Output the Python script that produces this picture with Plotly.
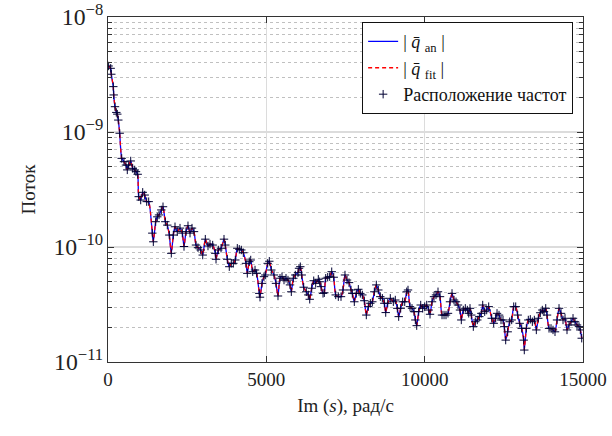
import plotly.graph_objects as go

# Frequencies, rad/s
freq = [20, 85, 104, 167, 180, 221, 262, 294, 325, 369, 433, 505, 568, 609, 654, 717, 780, 843, 884, 938,
        970, 1033, 1096, 1159, 1222, 1285, 1399, 1431, 1506, 1557, 1611, 1683, 1737, 1810, 1873, 1936, 1999, 2062,
        2116, 2188, 2274, 2346, 2400, 2463, 2526, 2590, 2653, 2716, 2779, 2842, 2927, 2991,
        3073, 3158, 3221, 3306, 3389, 3411, 3483, 3569, 3663, 3704, 3767, 3830, 3893, 3957, 4020, 4083, 4146,
        4210, 4273, 4358, 4399, 4462, 4507, 4570, 4643, 4696, 4778, 4800, 4863, 4926, 4967, 5043, 5094, 5157,
        5242, 5305, 5368, 5432, 5495, 5558, 5621, 5684, 5748, 5789, 5852, 5915, 6000,
        6032, 6073, 6117, 6180, 6262, 6325, 6370, 6433, 6496, 6559, 6641, 6686, 6727, 6790, 6831, 6875, 6938,
        7001, 7065, 7128, 7191, 7273, 7358, 7421, 7484, 7548, 7611, 7674, 7715, 7778, 7841, 7905, 7968, 8031,
        8094, 8157, 8220, 8284, 8347, 8410, 8473, 8536, 8599, 8663, 8726, 8770, 8833, 8915,
        9010, 9073, 9136, 9180, 9243, 9306, 9370, 9433, 9474, 9537, 9600, 9664, 9705, 9749, 9812, 9875, 9938,
        10001, 10065, 10128, 10169, 10232, 10295, 10358, 10421, 10485, 10548, 10611, 10674, 10737, 10800, 10864,
        10927, 10990, 11053, 11116, 11157, 11220, 11283, 11347, 11391, 11432, 11473, 11536, 11599, 11662, 11726,
        11789, 11833, 11896, 11959,
        12022, 12117, 12180, 12243, 12285, 12348, 12411, 12474, 12515, 12559, 12622, 12685, 12748, 12812, 12875,
        12938, 13001, 13064, 13127, 13146, 13210, 13273, 13336, 13400, 13463, 13526, 13589, 13652, 13715, 13769,
        13823, 13864, 13927, 13990, 14053, 14116, 14180, 14243, 14306, 14369, 14432, 14495, 14559, 14622, 14685,
        14748, 14811, 14874, 14915, 14960]

# Flux magnitude (analytic) at those frequencies
q_an = [3.75e-9, 3.58e-9, 3.18e-9, 2.48e-9, 2.10e-9, 1.66e-9, 1.48e-9, 1.43e-9, 1.27e-9, 9.75e-10, 5.90e-10,
        5.52e-10, 5.16e-10, 4.68e-10, 5.16e-10, 5.60e-10, 4.83e-10, 4.68e-10, 4.52e-10, 4.29e-10,
        2.74e-10, 2.56e-10, 2.99e-10, 2.83e-10, 2.48e-10, 2.48e-10, 1.32e-10, 1.11e-10, 1.66e-10, 1.83e-10,
        1.90e-10, 2.10e-10, 2.24e-10, 1.66e-10, 1.55e-10, 1.27e-10, 8.81e-11, 1.27e-10,
        1.50e-10, 1.36e-10, 1.46e-10, 1.32e-10, 1.01e-10, 1.36e-10, 1.53e-10, 1.32e-10, 1.46e-10, 1.36e-10,
        1.04e-10, 9.86e-11, 9.42e-11, 8.51e-11,
        1.17e-10, 1.02e-10, 1.06e-10, 1.04e-10, 8.81e-11, 7.82e-11, 9.42e-11, 9.75e-11, 1.17e-10, 1.04e-10,
        7.82e-11, 6.74e-11, 7.21e-11, 7.21e-11, 7.71e-11, 9.75e-11, 9.55e-11,
        9.42e-11, 8.91e-11, 7.21e-11, 5.90e-11, 7.45e-11, 7.71e-11, 6.10e-11, 6.31e-11, 5.90e-11, 3.95e-11,
        3.66e-11, 4.83e-11, 5.52e-11, 5.71e-11, 7.21e-11, 7.52e-11, 6.31e-11,
        5.71e-11, 4.83e-11, 3.75e-11, 5.35e-11, 5.52e-11, 5.16e-11, 5.35e-11, 5.16e-11, 4.68e-11, 4.08e-11,
        5.35e-11, 5.71e-11, 5.98e-11,
        6.53e-11, 6.74e-11, 5.71e-11, 4.47e-11, 4.08e-11, 3.83e-11, 3.51e-11, 4.38e-11, 5.09e-11, 4.83e-11,
        5.24e-11, 4.99e-11, 4.52e-11, 3.95e-11, 4.00e-11, 5.35e-11, 5.46e-11,
        5.52e-11, 6.10e-11, 5.46e-11, 3.83e-11, 3.70e-11, 3.70e-11, 4.23e-11, 5.71e-11, 5.16e-11, 4.90e-11,
        4.23e-11, 3.95e-11, 3.34e-11, 3.95e-11, 4.29e-11, 3.95e-11, 3.83e-11,
        3.41e-11, 2.56e-11, 3.03e-11, 3.24e-11, 3.34e-11, 4.08e-11, 4.68e-11, 4.23e-11, 3.70e-11, 3.58e-11,
        3.24e-11, 2.69e-11, 3.24e-11, 3.58e-11,
        3.34e-11, 3.46e-11, 2.93e-11, 2.48e-11, 2.93e-11, 3.34e-11, 3.34e-11, 4.08e-11, 4.23e-11, 3.03e-11,
        2.93e-11, 2.74e-11, 2.32e-11, 2.07e-11, 2.74e-11, 3.13e-11, 2.93e-11,
        3.03e-11, 3.13e-11, 2.83e-11, 2.60e-11, 3.34e-11, 3.70e-11, 3.83e-11, 4.08e-11, 3.70e-11, 2.56e-11,
        2.56e-11, 2.56e-11, 2.65e-11, 3.34e-11, 3.95e-11,
        3.46e-11, 3.34e-11, 3.13e-11, 2.83e-11, 2.32e-11, 2.83e-11, 2.93e-11, 2.83e-11, 2.65e-11, 2.93e-11,
        2.56e-11, 2.03e-11, 2.24e-11, 2.32e-11, 2.48e-11,
        2.65e-11, 3.13e-11, 2.74e-11, 2.83e-11,
        3.03e-11, 2.40e-11, 2.17e-11, 2.40e-11, 2.65e-11, 2.56e-11, 2.32e-11, 2.32e-11, 2.03e-11, 1.55e-11,
        1.83e-11, 2.24e-11, 2.32e-11, 3.03e-11, 3.03e-11,
        2.56e-11, 2.17e-11, 1.96e-11, 1.55e-11, 1.27e-11, 1.96e-11, 2.32e-11, 2.35e-11, 2.24e-11, 2.32e-11,
        1.90e-11, 2.40e-11, 2.68e-11, 2.83e-11, 2.74e-11,
        2.93e-11, 2.56e-11, 1.96e-11, 1.96e-11, 1.90e-11, 1.83e-11, 2.32e-11, 2.93e-11, 2.65e-11, 2.32e-11,
        2.40e-11, 1.90e-11, 2.10e-11, 2.24e-11, 2.40e-11,
        2.24e-11, 2.10e-11, 2.03e-11, 1.90e-11, 1.61e-11]

# Fitted response (matches analytic at the sample points)
q_fit = list(q_an)

legend_names = ["| <i>q\u0304</i> <sub>an</sub> |", "| <i>q\u0304</i> <sub>fit</sub> |", "Расположение частот"]
x_title = "Im (<i>s</i>), рад/с"
y_title = "Поток"
x_ticks = [0, 5000, 10000, 15000]

FONT = "Liberation Serif"

fig = go.Figure()
fig.add_trace(go.Scatter(x=freq, y=q_an, mode="lines", name=legend_names[0],
                         line=dict(color="#0000ff", width=1.3, shape="spline", smoothing=0.6)))
fig.add_trace(go.Scatter(x=freq, y=q_fit, mode="lines", name=legend_names[1],
                         line=dict(color="#ff0000", width=1.3, dash="4px,3px", shape="spline", smoothing=0.6)))
fig.add_trace(go.Scatter(x=freq, y=q_an, mode="markers", name=legend_names[2],
                         marker=dict(symbol="cross-thin", size=6, color="#000033",
                                     line=dict(color="#000033", width=1))))

fig.update_layout(
    width=612, height=436,
    margin=dict(l=108, r=29, t=17, b=74, autoexpand=False),
    paper_bgcolor="white", plot_bgcolor="white",
    font=dict(family=FONT, size=19, color="#222"),
    showlegend=True,
    legend=dict(x=0.535, y=0.985, xanchor="left", yanchor="top",
                bgcolor="white", bordercolor="#111", borderwidth=1,
                font=dict(family=FONT, size=18, color="#111"),
                tracegroupgap=0, itemwidth=30),
)
fig.update_xaxes(
    range=[0, 15000], tickvals=x_ticks, ticktext=[str(v) for v in x_ticks],
    showline=True, linecolor="#333", linewidth=1, mirror="allticks",
    ticks="inside", ticklen=6, tickcolor="#333", automargin=False,
    showgrid=True, gridcolor="#dcdcdc", gridwidth=1, zeroline=False,
    title=dict(text=x_title, font=dict(family=FONT, size=19), standoff=9),
    tickfont=dict(family=FONT, size=19, color="#222"),
)
fig.update_yaxes(
    type="log", range=[-11, -8], dtick=1, exponentformat="power",
    showline=True, linecolor="#333", linewidth=1, mirror="allticks",
    ticks="inside", ticklen=6, tickcolor="#333", automargin=False,
    showgrid=True, gridcolor="#dcdcdc", gridwidth=1.5, zeroline=False,
    minor=dict(dtick="D1", ticks="inside", ticklen=4, tickcolor="#333",
               showgrid=True, gridcolor="#c0c0c0", griddash="dot", gridwidth=1),
    title=dict(text=y_title, font=dict(family=FONT, size=19), standoff=12),
    tickfont=dict(family=FONT, size=19, color="#222"),
)

fig.write_html("out.html", config={"displayModeBar": False},
               post_script="document.body.style.margin='0px';document.body.style.overflow='hidden';")
